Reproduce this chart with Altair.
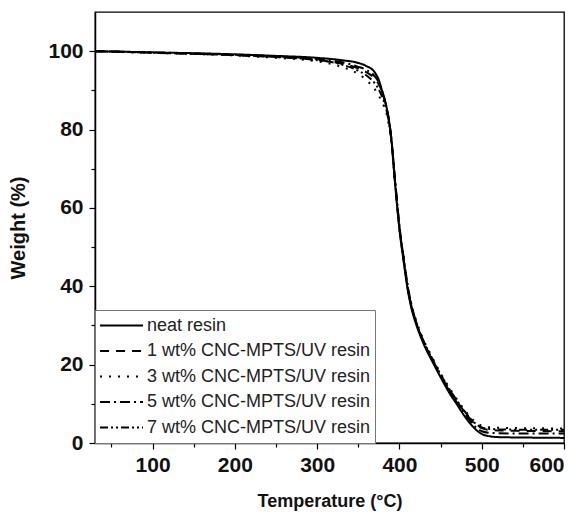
import altair as alt
import pandas as pd

series_names = [
    "neat resin",
    "1 wt% CNC-MPTS/UV resin",
    "3 wt% CNC-MPTS/UV resin",
    "5 wt% CNC-MPTS/UV resin",
    "7 wt% CNC-MPTS/UV resin",
]

temps = [30, 100, 200, 250, 300, 330, 350, 360, 370, 375, 380, 385, 390, 395, 400,
         405, 410, 415, 420, 430, 440, 450, 460, 470, 480, 490, 500, 510, 520, 550, 600]

neat = [100, 99.7, 99.2, 98.8, 98.3, 97.7, 97.0, 96.2, 94.6, 92.6, 89.0, 85.0, 78.0, 65.5, 54.5,
        46.5, 39.2, 34.0, 30.5, 25.0, 20.8, 16.8, 13.0, 9.8, 6.6, 4.0, 2.3, 1.7, 1.5, 1.4, 1.3]
wt1 = [100, 99.6, 99.0, 98.5, 97.8, 96.8, 95.6, 94.6, 93.0, 91.5, 89.0, 85.0, 78.0, 66.0, 55.0,
       47.0, 39.7, 34.5, 31.0, 25.5, 21.3, 17.3, 13.7, 10.6, 7.7, 5.2, 3.8, 3.3, 3.2, 3.1, 3.0]
wt3 = [100, 99.6, 98.9, 98.3, 97.4, 96.0, 94.2, 92.6, 90.3, 88.6, 86.5, 83.5, 77.0, 65.5, 55.0,
       47.5, 40.2, 35.0, 31.5, 26.0, 21.8, 17.8, 14.3, 11.1, 8.2, 5.8, 4.4, 4.0, 3.9, 3.8, 3.7]
wt5 = [100, 99.7, 99.1, 98.7, 98.0, 97.2, 96.0, 95.2, 93.6, 92.0, 89.2, 85.0, 78.0, 66.5, 55.5,
       47.5, 40.2, 35.0, 31.0, 25.5, 21.1, 17.1, 13.5, 10.3, 7.3, 4.6, 3.0, 2.6, 2.5, 2.4, 2.4]
wt7 = [100, 99.6, 99.0, 98.5, 97.7, 96.6, 95.0, 93.8, 91.8, 90.2, 87.8, 84.2, 77.5, 66.0, 55.0,
       47.0, 39.7, 34.5, 31.0, 25.7, 21.5, 17.5, 14.0, 10.8, 7.9, 5.4, 4.0, 3.6, 3.5, 3.4, 3.4]

x_ticks = [50, 100, 150, 200, 250, 300, 350, 400, 450, 500, 550, 600]
y_ticks = [0, 10, 20, 30, 40, 50, 60, 70, 80, 90, 100]

dashes = [[1, 0], [9, 7], [2, 7], [10, 4, 2, 4], [8, 3, 2, 3, 2, 3]]

rows = []
for name, vals in zip(series_names, [neat, wt1, wt3, wt5, wt7]):
    for t, w in zip(temps, vals):
        rows.append({"T": t, "W": w, "series": name})
df = pd.DataFrame(rows)

FONT = "Liberation Sans"

chart = alt.Chart(df).mark_line(strokeWidth=2, color="black", interpolate="monotone").encode(
    x=alt.X("T:Q", scale=alt.Scale(domain=[30, 600], nice=False, zero=False),
            axis=alt.Axis(title="Temperature (°C)", values=x_ticks,
                          labelExpr="datum.value % 100 === 0 ? datum.label : ''",
                          tickSize={"condition": {"test": "datum.value % 100 === 0", "value": 6}, "value": 4},
                          labelOverlap=False, labelPadding=5, titlePadding=17,
                          titleFontSize=18)),
    y=alt.Y("W:Q", scale=alt.Scale(domain=[0, 110], nice=False),
            axis=alt.Axis(title="Weight (%)", values=y_ticks,
                          labelExpr="datum.value % 20 === 0 ? datum.label : ''",
                          tickSize={"condition": {"test": "datum.value % 20 === 0", "value": 6}, "value": 4},
                          labelOverlap=False, labelPadding=6, titlePadding=19,
                          titleFontSize=20)),
    strokeDash=alt.StrokeDash("series:N", sort=series_names,
                              scale=alt.Scale(domain=series_names, range=dashes),
                              legend=alt.Legend(title=None, orient="none", legendX=0, legendY=298,
                                                symbolType="stroke", symbolSize=1849,
                                                symbolStrokeWidth=2, symbolStrokeColor="black",
                                                labelFont=FONT, labelFontSize=18, labelColor="#222",
                                                labelLimit=400, clipHeight=23,
                                                strokeColor="#777", fillColor="white", padding=4,
                                                rowPadding=2.5, labelOffset=3)),
).properties(
    width=469, height=431,
    autosize=alt.AutoSizeParams(type="none"),
    padding={"left": 87, "top": 4, "right": 10, "bottom": 72},
).configure_view(
    stroke="black", strokeWidth=1.3
).configure_axis(
    labelFont=FONT, labelFontSize=21, labelFontWeight="bold", labelColor="#111",
    titleFont=FONT, titleFontWeight="bold", titleColor="#111",
    domainColor="black", domainWidth=1.5, tickColor="black", tickWidth=1.2, grid=False
)

chart.save("out.html", embed_options={"renderer": "svg", "actions": False})
